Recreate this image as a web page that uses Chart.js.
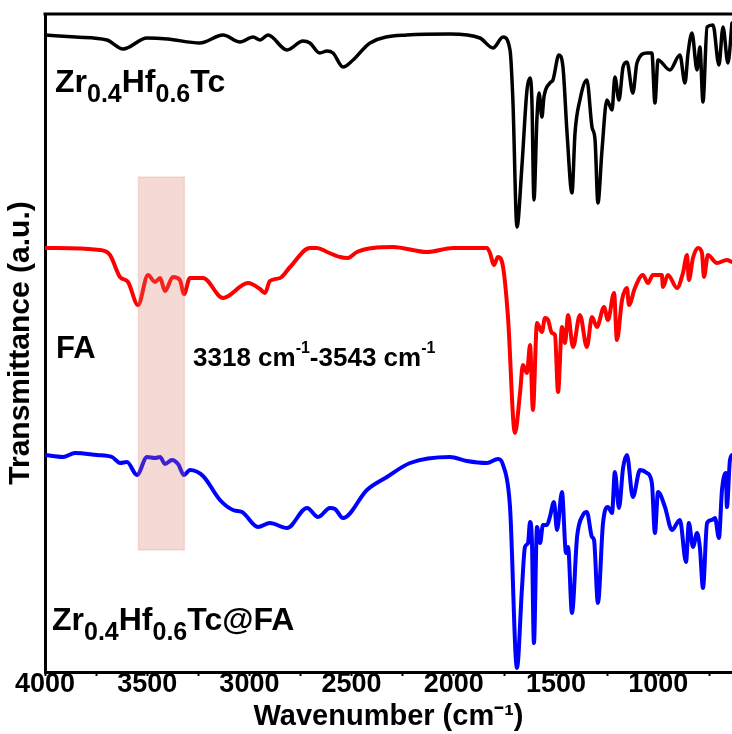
<!DOCTYPE html>
<html>
<head>
<meta charset="utf-8">
<script src="https://cdn.jsdelivr.net/npm/chart.js@4.4.1/dist/chart.umd.min.js"></script>
<style>
  html, body { margin: 0; padding: 0; background: #fff; }
  #wrap { width: 732px; height: 734px; }
</style>
</head>
<body>
<div id="wrap"><canvas id="ftirChart" width="732" height="734"></canvas></div>
<script>
// wavenumber (cm-1) and transmittance (a.u., curves already offset as in the figure)
var tcWavenumber = [4000, 3850, 3697, 3618, 3501, 3400, 3242, 3129, 3046, 2982, 2948, 2909, 2816, 2738, 2704, 2656, 2620, 2591, 2542, 2493, 2410, 2229, 2019, 1872, 1808, 1759, 1725, 1711, 1691, 1667, 1642, 1627, 1618, 1608, 1593, 1583, 1569, 1559, 1530, 1515, 1486, 1466, 1446, 1422, 1407, 1383, 1349, 1324, 1309, 1295, 1275, 1251, 1226, 1212, 1192, 1172, 1153, 1124, 1104, 1055, 1031, 1016, 1001, 943, 894, 869, 854, 835, 810, 796, 781, 761, 732, 703, 683, 659, 639];
var tcValues = [63.7, 63.5, 63.2, 62.3, 63.4, 63.3, 62.9, 63.7, 63.0, 63.5, 63.2, 63.7, 62.2, 63.1, 62.9, 61.9, 62.1, 61.9, 60.5, 61.2, 62.9, 63.7, 63.8, 63.4, 62.4, 63.5, 62.2, 57.2, 44.5, 50.5, 58.2, 59.4, 57.2, 47.2, 55.5, 57.9, 55.5, 57.5, 58.9, 59.2, 61.7, 60.5, 53.9, 47.9, 53.9, 57.2, 59.2, 54.5, 53.2, 46.9, 52.2, 57.2, 56.2, 59.5, 57.2, 60.5, 61.0, 57.9, 60.9, 61.9, 61.9, 56.9, 61.2, 60.2, 61.7, 58.9, 61.9, 63.9, 60.2, 62.5, 57.0, 64.5, 64.7, 60.7, 64.5, 60.9, 64.9];

var faWavenumber = [4000, 3731, 3682, 3633, 3594, 3545, 3496, 3462, 3437, 3413, 3374, 3340, 3320, 3291, 3227, 3129, 3007, 2948, 2924, 2900, 2850, 2801, 2704, 2669, 2620, 2557, 2518, 2474, 2395, 2298, 2131, 2004, 1838, 1823, 1804, 1784, 1759, 1735, 1701, 1676, 1662, 1642, 1627, 1613, 1593, 1569, 1554, 1539, 1520, 1505, 1490, 1471, 1456, 1441, 1417, 1383, 1349, 1324, 1300, 1265, 1246, 1216, 1202, 1177, 1153, 1143, 1114, 1075, 1050, 1026, 982, 977, 952, 908, 879, 859, 850, 830, 805, 786, 776, 757, 713, 664, 639];
var faValues = [42.4, 42.2, 41.7, 39.5, 39.0, 36.7, 39.7, 39.0, 39.4, 38.1, 39.5, 39.2, 37.8, 39.4, 39.4, 37.4, 38.9, 38.3, 37.9, 39.1, 39.4, 40.5, 42.4, 42.4, 42.0, 41.5, 41.4, 42.0, 42.4, 42.5, 42.0, 42.4, 42.4, 41.9, 40.7, 41.5, 40.5, 35.5, 23.9, 27.9, 30.7, 29.9, 32.7, 26.2, 34.9, 34.0, 35.4, 35.2, 33.9, 33.7, 28.0, 34.5, 32.9, 35.7, 32.5, 35.7, 32.5, 35.5, 34.5, 36.5, 35.2, 37.9, 33.2, 37.2, 38.4, 36.7, 38.4, 39.7, 38.9, 39.7, 39.7, 38.5, 39.7, 38.4, 39.9, 41.7, 39.2, 41.4, 42.4, 41.9, 39.5, 41.7, 40.9, 41.2, 41.0];

var tcFaWavenumber = [4000, 3912, 3853, 3746, 3672, 3633, 3599, 3550, 3501, 3462, 3437, 3413, 3379, 3349, 3320, 3291, 3227, 3144, 3080, 3036, 2958, 2900, 2816, 2718, 2664, 2606, 2581, 2542, 2425, 2327, 2214, 2019, 1936, 1838, 1784, 1759, 1725, 1691, 1667, 1652, 1637, 1627, 1618, 1608, 1593, 1578, 1564, 1544, 1530, 1510, 1495, 1471, 1451, 1441, 1422, 1397, 1368, 1349, 1324, 1314, 1295, 1270, 1246, 1226, 1212, 1192, 1172, 1153, 1124, 1089, 1055, 1031, 1016, 1001, 967, 933, 894, 864, 850, 830, 810, 796, 781, 761, 737, 722, 703, 688, 669, 664, 649, 639];
var tcFaValues = [21.7, 21.5, 21.9, 21.7, 21.5, 20.9, 21.0, 19.7, 21.5, 21.4, 21.5, 20.8, 21.2, 20.8, 19.7, 20.2, 19.6, 17.2, 16.2, 16.0, 14.5, 14.9, 14.4, 16.4, 15.5, 16.4, 16.3, 15.4, 18.2, 19.5, 20.9, 21.5, 21.1, 20.9, 21.3, 20.7, 16.5, 0.4, 8.2, 12.5, 12.9, 15.0, 13.2, 2.9, 14.5, 12.9, 14.7, 14.7, 15.5, 17.0, 14.2, 18.0, 11.9, 12.5, 5.9, 13.5, 15.7, 16.0, 13.5, 13.2, 6.9, 14.9, 16.5, 15.9, 20.0, 16.4, 20.4, 21.7, 17.5, 20.2, 19.9, 18.9, 13.9, 18.0, 16.5, 14.2, 15.2, 11.0, 14.9, 12.5, 13.9, 12.4, 8.4, 14.9, 15.2, 15.4, 13.4, 18.2, 19.9, 16.5, 21.2, 21.7];

var tickValues = [4000, 3750, 3500, 3250, 3000, 2750, 2500, 2250, 2000, 1750, 1500, 1250, 1000, 750];
var tickLabels = [4000, 3500, 3000, 2500, 2000, 1500, 1000];

// highlighted O-H band and its vertical extent
var bandRange = [3318, 3543];
var bandLevels = [12.2, 49.5];

var FONT = '"Liberation Sans", Arial, sans-serif';

function toPoints(xs, ys) {
    var pts = [];
    for (var i = 0; i < xs.length; i++) {
        pts.push({x: xs[i], y: ys[i]});
    }
    return pts;
}

// parts: [text, mode] with mode 0 normal, 1 subscript, 2 superscript
function drawRich(ctx, parts, x, y, size, small, shift) {
    ctx.textAlign = 'left';
    ctx.textBaseline = 'alphabetic';
    ctx.fillStyle = '#000';
    parts.forEach(function(p) {
        var fs = p[1] ? small : size;
        ctx.font = 'bold ' + fs + 'px ' + FONT;
        var dy = p[1] === 1 ? shift : (p[1] === 2 ? -shift : 0);
        ctx.fillText(p[0], x, y + dy);
        x += ctx.measureText(p[0]).width;
    });
}

var annotations = {
    id: 'ftirAnnotations',
    afterDatasetsDraw: function(chart) {
        var ctx = chart.ctx;
        var xs = chart.scales.x, ys = chart.scales.y;
        var area = chart.chartArea;

        var x1 = xs.getPixelForValue(bandRange[1]);
        var x2 = xs.getPixelForValue(bandRange[0]);
        var y1 = ys.getPixelForValue(bandLevels[1]);
        var y2 = ys.getPixelForValue(bandLevels[0]);
        ctx.save();
        ctx.fillStyle = 'rgba(215,120,105,0.28)';
        ctx.fillRect(x1, y1, x2 - x1, y2 - y1);
        ctx.strokeStyle = 'rgba(215,120,105,0.2)';
        ctx.lineWidth = 1.5;
        ctx.strokeRect(x1, y1, x2 - x1, y2 - y1);

        // top frame line
        ctx.strokeStyle = '#000';
        ctx.lineWidth = 3;
        ctx.beginPath();
        ctx.moveTo(area.left - 1.5, area.top);
        ctx.lineTo(area.right, area.top);
        ctx.stroke();

        drawRich(ctx, [['Zr', 0], ['0.4', 1], ['Hf', 0], ['0.6', 1], ['Tc', 0]], 55, 92, 32, 25, 10);
        drawRich(ctx, [['FA', 0]], 56, 358, 31, 24, 10);
        drawRich(ctx, [['3318 cm', 0], ['-1', 2], ['-3543 cm', 0], ['-1', 2]], 193, 366, 26, 16, 13);
        drawRich(ctx, [['Zr', 0], ['0.4', 1], ['Hf', 0], ['0.6', 1], ['Tc@FA', 0]], 52, 630, 32, 25, 10);
        ctx.restore();
    }
};

var ctx = document.getElementById('ftirChart').getContext('2d');

var myChart = new Chart(ctx, {
    type: 'line',
    data: {
        datasets: [
            {label: 'Zr0.4Hf0.6Tc', data: toPoints(tcWavenumber, tcValues), borderColor: '#000000', borderWidth: 3.5},
            {label: 'FA', data: toPoints(faWavenumber, faValues), borderColor: '#ff0000', borderWidth: 4},
            {label: 'Zr0.4Hf0.6Tc@FA', data: toPoints(tcFaWavenumber, tcFaValues), borderColor: '#0000ff', borderWidth: 4}
        ]
    },
    options: {
        responsive: false,
        animation: false,
        events: [],
        layout: {padding: {top: 14, right: 0, bottom: 0, left: 0}},
        elements: {
            point: {radius: 0},
            line: {cubicInterpolationMode: 'monotone', borderJoinStyle: 'round', borderCapStyle: 'round'}
        },
        plugins: {legend: {display: false}, tooltip: {enabled: false}},
        scales: {
            x: {
                type: 'linear',
                reverse: true,
                min: 639,
                max: 4000,
                afterBuildTicks: function(scale) {
                    scale.ticks = tickValues.map(function(v) { return {value: v}; });
                },
                afterFit: function(scale) { scale.height = 62; },
                ticks: {
                    autoSkip: false,
                    maxRotation: 0,
                    padding: -8,
                    color: '#000',
                    font: {family: FONT, size: 27, weight: 'bold'},
                    callback: function(v) { return tickLabels.indexOf(v) >= 0 ? String(v) : ''; }
                },
                grid: {drawOnChartArea: false, drawTicks: true, tickLength: 4, tickWidth: 2, tickColor: '#000'},
                border: {display: true, color: '#000', width: 3},
                title: {
                    display: true,
                    text: 'Wavenumber (cm\u207B\u00B9)',
                    color: '#000',
                    font: {family: FONT, size: 29, weight: 'bold'},
                    padding: {top: 0, bottom: 0}
                }
            },
            y: {
                min: 0,
                max: 65.8,
                afterFit: function(scale) { scale.width = 45; },
                ticks: {display: false},
                grid: {drawOnChartArea: false, drawTicks: false},
                border: {display: true, color: '#000', width: 3},
                title: {
                    display: true,
                    text: 'Transmittance (a.u.)',
                    color: '#000',
                    font: {family: FONT, size: 30, weight: 'bold'},
                    padding: {top: 3, bottom: 0}
                }
            }
        }
    },
    plugins: [annotations]
});
</script>
</body>
</html>
